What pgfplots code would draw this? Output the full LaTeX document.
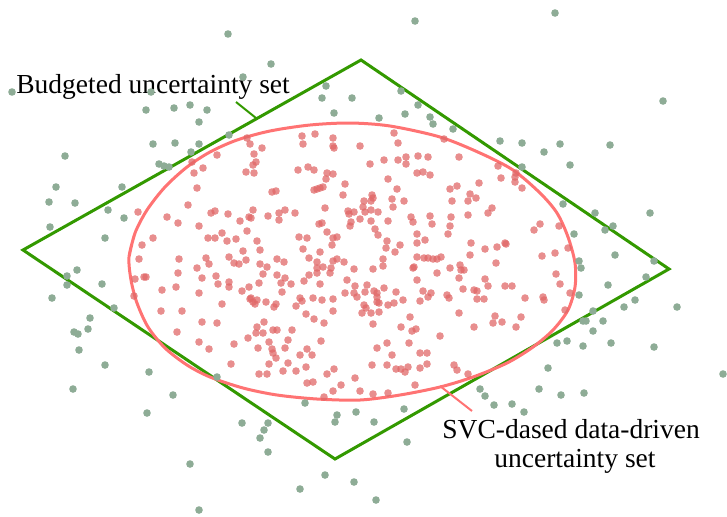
\documentclass[border=0pt]{standalone}
\usepackage{pgfplots}
\pgfplotsset{compat=1.18}
\usepackage{fontspec}
\setmainfont{Liberation Serif}
\definecolor{dgreen}{HTML}{339900}
\definecolor{gdot}{HTML}{8EAC96}
\definecolor{rdot}{HTML}{E06868}
\definecolor{rline}{HTML}{FF7373}
\begin{document}
\begin{tikzpicture}
\begin{axis}[hide axis, scale only axis, width=363.5pt, height=258pt,
  xmin=0, xmax=727, ymin=0, ymax=516, y dir=reverse, clip=false]
\coordinate (ll) at (rel axis cs:0,0);
\coordinate (ur) at (rel axis cs:1,1);
% outside points (green-grey)
\addplot[only marks, mark=*, mark size=1.9pt, gdot, mark options={draw opacity=0, fill=gdot}] coordinates {
(228,34)(12,92)(151,92)(146,110)(174,108)(190,105)(207,110)(199,122)(243,77)(153,144)(175,143)(199,144)(191,152)(229,135)(65,156)(159,164)(164,166)(169,167)
(415,21)(271,64)(326,86)(322,98)(352,98)(334,113)(379,118)(401,91)(418,105)(405,114)(430,117)(433,124)(453,129)
(555,13)(663,101)(500,141)(522,143)(544,152)(560,144)(610,145)(570,165)(522,167)
(56,187)(49,202)(75,203)(122,187)(108,210)(124,218)(50,227)(105,238)(77,270)(67,276)(67,285)(102,284)(52,298)(114,308)(90,318)(88,329)(74,332)(78,334)(79,350)
(105,365)(149,372)(73,389)(173,395)(147,413)(217,377)(190,464)(199,510)
(305,403)(337,415)(335,422)(356,412)(374,422)(404,409)(407,442)(242,423)(268,423)(264,430)(260,438)(268,452)(325,475)(354,482)(300,489)(376,500)(480,389)(485,396)
(557,343)(567,341)(583,346)(611,343)(654,347)(548,368)(723,374)(494,405)(512,404)(524,412)(539,389)(561,395)(584,393)
(563,204)(595,213)(650,213)(613,226)(605,230)(574,234)(615,255)(579,261)(581,268)(654,261)(646,277)(608,285)(579,295)(635,300)(624,307)(677,307)(593,311)(583,321)(586,321)(603,321)(593,331)
};
% inside points (red)
\addplot[only marks, mark=*, mark size=1.9pt, rdot, mark options={draw opacity=0, fill=rdot, fill opacity=0.75}] coordinates {
(217,155)(192,162)(203,168)(194,173)(247,138)(250,144)(262,148)(254,154)(256,162)(253,165)(302,136)(315,134)(333,138)(303,144)(333,146)(334,148)(360,146)(394,133)(398,143)(444,139)(308,167)(370,164)(384,160)(398,160)(406,157)(406,164)(418,156)(428,157)(459,157)(498,166)(516,173)(501,178)
(197,188)(188,205)(138,212)(167,217)(178,223)(199,226)(211,213)(215,211)(228,214)(240,221)(247,231)(249,217)(153,238)(142,245)(139,259)(179,259)(208,238)(215,238)(222,233)(227,241)(236,239)(206,258)(209,264)(197,268)(229,257)(234,263)(239,264)(246,260)(243,251)(135,279)(144,277)(146,277)(178,273)(202,278)(216,276)(218,284)(229,282)(229,287)(176,287)(162,290)(199,293)(242,291)(249,287)(134,296)(222,304)(161,311)(182,311)(202,322)(217,323)(177,332)(250,299)
(246,172)(254,173)(298,170)(314,170)(327,173)(333,174)(388,179)(417,173)(423,172)(430,175)(479,183)(457,186)(450,189)(326,179)(272,192)(276,191)(314,190)(317,189)(320,188)(323,187)(345,184)(343,195)(372,195)(373,198)(371,201)(364,201)(363,207)(392,199)(397,189)(404,201)(452,201)(468,201)(476,198)(470,194)(325,208)(253,210)(251,218)(268,216)(279,213)(279,220)(285,210)(295,213)(348,211)(349,214)(354,212)(351,222)(350,226)(360,219)(365,212)(371,210)(378,212)(371,221)(388,221)(393,207)(411,217)(413,222)(430,216)(432,224)(451,217)(450,226)(468,215)(488,213)(319,224)(322,223)(327,232)(299,237)(307,238)(333,238)(337,237)(332,245)(375,229)(378,235)(387,241)(386,248)(400,245)(395,252)(417,234)(417,243)(425,240)(448,234)(471,243)(257,241)(260,250)(303,249)(320,252)(260,264)(277,259)(284,262)(309,258)(317,262)(323,267)(317,268)(333,261)(337,259)(344,262)(331,268)(330,273)(383,259)(383,266)(373,269)(354,269)(417,257)(424,258)(428,258)(433,259)(437,259)(441,257)(414,267)(413,268)(437,273)(450,268)(460,265)(461,270)(464,270)(470,255)(485,249)(267,267)(263,274)(277,275)(285,278)(281,283)(291,284)(259,283)(282,292)(304,281)(309,275)(320,284)(317,273)(347,280)(355,286)(367,285)(365,292)(357,297)(354,293)(345,293)(374,291)(377,293)(384,288)(396,292)(417,280)(423,291)(431,293)(428,297)(459,278)(463,289)(474,290)(485,279)(488,286)(251,298)(253,302)(255,304)(257,300)(266,302)(276,304)(274,307)(296,306)(300,298)(302,301)(313,298)(322,300)(333,299)(306,314)(333,311)(364,305)(366,308)(362,313)(371,313)(377,297)(377,302)(379,303)(379,312)(388,305)(394,303)(403,300)(420,301)(447,295)(449,298)(477,299)(484,299)(459,313)(410,317)(314,319)(324,323)(264,322)(257,327)(256,333)(263,333)(273,330)(277,330)(292,330)(373,324)(401,327)(416,329)(412,331)(474,327)
(515,177)(515,182)(522,188)(492,208)(540,224)(534,230)(559,226)(505,243)(506,244)(497,247)(568,248)(542,256)(555,253)(496,263)(505,286)(512,286)(556,274)(560,284)(477,291)(525,298)(543,297)(544,300)(570,293)(565,310)(495,316)(521,317)(493,323)(502,322)(516,327)
(199,342)(209,349)(234,344)(231,364)(248,338)
(269,342)(272,349)(273,353)(276,358)(288,340)(285,348)(258,348)(269,364)(283,371)(288,363)(296,371)(300,355)(307,349)(312,355)(306,367)(259,374)(267,374)(307,383)(313,382)(321,341)(327,374)(334,369)(333,391)(341,385)(355,378)(360,391)(324,397)(373,394)(377,348)(387,343)(392,355)(409,343)(387,365)(372,365)(396,369)(401,369)(405,372)(408,367)(388,393)(415,385)(420,353)(427,353)(420,368)(427,364)(440,336)(454,365)(457,370)(468,374)
};
% budgeted uncertainty set (diamond)
\addplot[dgreen, line width=1.5pt, line join=miter, mark=none] coordinates {
(23,250)(361,60)(669,269)(335,459)} -- cycle;
% SVC-based boundary
\addplot[rline, line width=1.5pt, smooth, mark=none] coordinates {
(129,257)(135,233)(147,210)(165,187)(187,167)(210,152)(237,140)(270,131)(310,125)(350,123)(390,126)(440,137)(480,153)(513,170)(540,193)(557,213)(568,237)(575,263)(575,287)(568,310)(553,330)(533,347)(507,363)(473,377)(440,387)(400,395)(360,400)(317,399)(277,395)(243,388)(210,377)(187,365)(165,348)(148,327)(137,303)(131,280)(129,257)(135,233)};
% leader lines
\addplot[dgreen, line width=1pt, mark=none] coordinates {(236,102)(256,118)};
\addplot[rline, line width=1pt, mark=none] coordinates {(440,386)(472,411)};
% labels
\node[anchor=base west, inner sep=0pt, font=\fontsize{13.75pt}{16pt}\selectfont] at (axis cs:16,93) {Budgeted uncertainty set};
\node[anchor=base west, inner sep=0pt, font=\fontsize{13.75pt}{16pt}\selectfont] at (axis cs:442,438) {SVC-dased data-driven};
\node[anchor=base west, inner sep=0pt, font=\fontsize{13.75pt}{16pt}\selectfont] at (axis cs:494,467) {uncertainty set};
\end{axis}
\pgfresetboundingbox
\path (ll) rectangle (ur);
\end{tikzpicture}
\end{document}
